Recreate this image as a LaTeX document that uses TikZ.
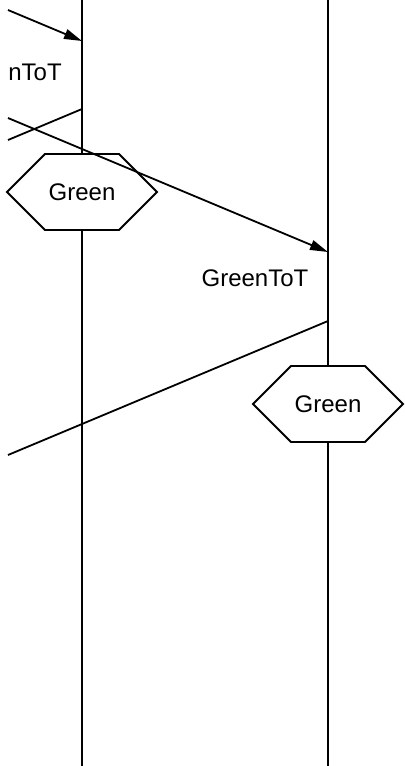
\documentclass[tikz,border=0pt]{standalone}
\usepackage{fontspec}
\setmainfont{Liberation Sans}
\usetikzlibrary{positioning,arrows.meta,shapes.symbols}

\begin{document}
\begin{tikzpicture}[
		x=0.5pt, y=-0.5pt,
		line width=0.9pt,
		state/.style={
			draw,
			signal,
			signal to=east and west,
			signal pointer angle=90,
			minimum width=75pt,
			minimum height=38pt,
			inner sep=0pt,
			fill=white,
			font=\fontsize{12}{14}\selectfont
		},
		msglabel/.style={
			inner sep=0pt,
			font=\fontsize{12}{14}\selectfont
		},
		msg/.style={-{Triangle[length=9pt,width=5pt]}}
		]
		
		\useasboundingbox (0,0) rectangle (405,766);
		
		% lifelines
		\coordinate (ltop) at (82,0);
		\coordinate (lbot) at (82,766);
		\coordinate (rtop) at (328,0);
		\coordinate (rbot) at (328,766);
		
		\node[state] (lgreen) at (82,192) {Green};
		\node[state] (rgreen) at (328,404) {Green};
		
		\draw (ltop)--(lgreen);
		\draw (lgreen)--(lbot);
		\draw (rtop)--(rgreen);
		\draw (rgreen)--(rbot);
		
		% message ends
		\coordinate (in1) at (8,10);
		\coordinate (l1) at (82,41);
		\coordinate (l2) at (82,109);
		\coordinate (out2) at (8,140);
		\coordinate (in3) at (8,118);
		\coordinate (r3) at (328,252);
		\coordinate (r4) at (328,321);
		\coordinate (out4) at (8,455);
		
		\draw[msg] (in1)--(l1);
		\draw (l2)--(out2);
		\draw[msg] (in3)--(r3);
		\draw (r4)--(out4);
		
		\node[msglabel] (lbl1) at (35,72) {nToT};
		\node[msglabel] (lbl2) at (255,278) {GreenToT};
		
	\end{tikzpicture}
\end{document}
